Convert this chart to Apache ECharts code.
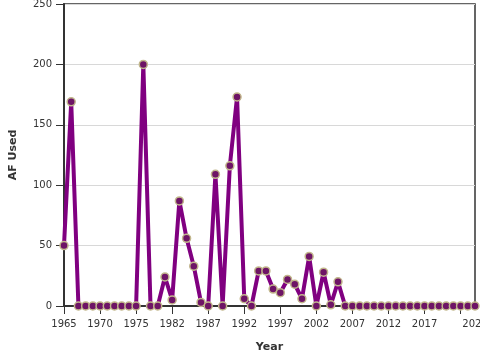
<!DOCTYPE html>
<html><head><meta charset="utf-8">
<script src="https://cdn.jsdelivr.net/npm/echarts@6/dist/echarts.min.js"></script>
<style>html,body{margin:0;padding:0;background:#fff}#c{width:480px;height:360px}</style>
</head><body><div id="c"></div>
<script>
var years = ['1965','1966','1967','1968','1969','1970','1971','1972','1973','1974','1975',
  '1976','1977','1980','1981','1982','1983','1984','1985','1986','1987','1988','1989','1990',
  '1991','1992','1993','1994','1995','1996','1997','1998','1999','2000','2001','2002','2003',
  '2004','2005','2006','2007','2008','2009','2010','2011','2012','2013','2014','2015','2016',
  '2017','2018','2019','2020','2021','2022','2023','2024'];
var afUsed = [50,169,0,0,0,0,0,0,0,0,0,
  200,0,0,24,5,87,56,33,3,0,109,0,116,
  173,6,0,29,29,14,11,22,18,6,41,0,28,
  1,20,0,0,0,0,0,0,0,0,0,0,0,
  0,0,0,0,0,0,0,0];
var yTicks = [0,50,100,150,200,250];
var lastIdx = years.length - 1;

var chart = echarts.init(document.getElementById('c'), null, {renderer:'canvas'});
var font = 'DejaVu Sans';
chart.setOption({
  animation:false,
  grid:{left:64,right:5,top:4,bottom:54,containLabel:false,outerBoundsMode:'none',
    show:true,borderColor:'#333',borderWidth:1.5,backgroundColor:'transparent'},
  xAxis:{
    type:'category', data:years, boundaryGap:false,
    name:'Year', nameLocation:'middle', nameGap:36,
    nameTextStyle:{fontFamily:font,fontSize:11,fontWeight:'bold',color:'#333'},
    axisLine:{lineStyle:{color:'#333',width:2}},
    axisTick:{length:8,lineStyle:{color:'#333'},interval:function(i){return i%5===0;}},
    axisLabel:{fontFamily:font,fontSize:10,color:'#333',margin:13,
      interval:function(i){return (i%5===0 && i!==55) || i===lastIdx;}},
    splitLine:{show:false}
  },
  yAxis:{
    type:'value', min:yTicks[0], max:yTicks[yTicks.length-1], interval:50,
    name:'AF Used', nameLocation:'middle', nameGap:45, nameRotate:90,
    nameTextStyle:{fontFamily:font,fontSize:11,fontWeight:'bold',color:'#333'},
    axisLine:{show:true,lineStyle:{color:'#333',width:2}},
    axisTick:{show:true,length:8,lineStyle:{color:'#333'}},
    axisLabel:{fontFamily:font,fontSize:10,color:'#333',margin:12},
    splitLine:{show:true,lineStyle:{color:'#d8d8d8',width:1}}
  },
  series:[{
    type:'line', data:afUsed, showAllSymbol:true,
    lineStyle:{color:'#800080',width:4},
    symbol:'circle', symbolSize:8,
    itemStyle:{color:'#6e1466',borderColor:'#c2b78c',borderWidth:1.5},
    z:3
  }]
});
</script></body></html>
